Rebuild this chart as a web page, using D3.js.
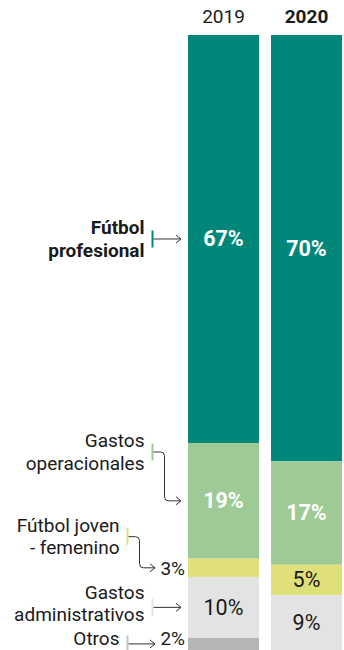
<!DOCTYPE html>
<html><head><meta charset="utf-8">
<script src="https://cdn.jsdelivr.net/npm/d3@7"></script>
<style>
html,body{margin:0;padding:0;background:#fff;}
svg{display:block;font-family:Roboto, "Noto Sans", sans-serif;}
</style></head>
<body>
<svg id="chart" width="344" height="650"></svg>
<script>
// ---- data ----
const years = ["2019", "2020"];
const categories = ["Fútbol profesional", "Gastos operacionales", "Fútbol joven - femenino", "Gastos administrativos", "Otros"];
const values2019 = [67, 19, 3, 10, 2];
const values2020 = [70, 17, 5, 9, 0];
const labelLines = [["Fútbol", "profesional"], ["Gastos", "operacionales"], ["Fútbol joven", "- femenino"], ["Gastos", "administrativos"], ["Otros"]];
const colors = ["#00877a", "#9ecb95", "#dfe07a", "#e3e3e3", "#b5b5b5"];
const tickColors = ["#00877a", "#9ecb95", "#dfe07a", "#e3e3e3", "#c4c4c4"];

// ---- layout ----
const svg = d3.select("#chart");
const series = {"2019": values2019, "2020": values2020};
const total = d3.max(years, y => d3.sum(series[y]));

const x = d3.scaleBand().domain(years).range([188, 342]).paddingInner(12 / 83).paddingOuter(0);
const y = d3.scaleLinear().domain([0, total]).range([35, 650]);

const segs = [];
years.forEach(yr => {
  let acc = 0;
  series[yr].forEach((v, i) => {
    segs.push({year: yr, i, v, y0: acc, y1: acc + v});
    acc += v;
  });
});

// bars
svg.append("g").selectAll("rect").data(segs.filter(d => d.v > 0)).join("rect")
  .attr("x", d => x(d.year))
  .attr("width", x.bandwidth())
  .attr("y", d => y(d.y0))
  .attr("height", d => y(d.y1) - y(d.y0))
  .attr("fill", d => colors[d.i]);

// year headers
svg.append("g").selectAll("text").data(years).join("text")
  .attr("x", d => x(d) + x.bandwidth() / 2)
  .attr("y", 23)
  .attr("text-anchor", "middle")
  .attr("font-size", 19)
  .attr("font-weight", (d, i) => i === 1 ? 700 : 400)
  .attr("fill", "#1a1a1a")
  .text(d => d);

// in-bar value labels (segments tall enough)
const inside = segs.filter(d => d.v > 0 && (y(d.y1) - y(d.y0)) > 24);
svg.append("g").selectAll("text").data(inside).join("text")
  .attr("x", d => x(d.year) + x.bandwidth() / 2)
  .attr("y", d => (y(d.y0) + y(d.y1)) / 2 + 7.5)
  .attr("text-anchor", "middle")
  .attr("font-size", 21.5)
  .attr("font-weight", d => d.i < 2 ? 700 : 400)
  .attr("fill", d => d.i < 2 ? "#ffffff" : "#1a1a1a")
  .text(d => d.v + "%");

// annotations for the 2019 bar
const s19 = segs.filter(d => d.year === "2019");
const barLeft = x("2019");
const ann = s19.map(d => {
  const mid = (y(d.y0) + y(d.y1)) / 2;
  const outside = (y(d.y1) - y(d.y0)) <= 24;
  let blockC = mid;
  let textShift = 0;
  if (d.i === 1) blockC = y(d.y0) + 9;
  if (d.i === 2) blockC = y(d.y0) - 22;
  if (d.i === 3) textShift = -4;
  const tickX = outside ? 127.5 : 152.5;
  return {d, mid, outside, blockC, tickX, textShift};
});

const lh = 22.3;
const maxBase = 645.3;
const gA = svg.append("g");
ann.forEach(a => {
  const lines = labelLines[a.d.i];
  const n = lines.length;
  const first = Math.min(a.blockC - (n - 1) * lh / 2 + 6.5 + a.textShift, maxBase);
  lines.forEach((l, k) => {
    gA.append("text")
      .attr("x", a.tickX - 8).attr("y", first + k * lh)
      .attr("text-anchor", "end")
      .attr("font-size", 19)
      .attr("font-weight", a.d.i === 0 ? 700 : 400)
      .attr("fill", "#1a1a1a")
      .text(l);
  });
  // colored tick
  gA.append("line")
    .attr("x1", a.tickX).attr("x2", a.tickX)
    .attr("y1", a.blockC - 8.5).attr("y2", a.blockC + 8.5)
    .attr("stroke", tickColors[a.d.i]).attr("stroke-width", 2);
  // connector
  const endX = a.outside ? barLeft - 33 : barLeft - 7;
  const sx = a.tickX + 1;
  let p;
  if (Math.abs(a.blockC - a.mid) < 4) {
    p = `M${sx},${a.mid}H${endX}`;
  } else {
    const cx = a.outside ? 139.5 : 164.5, r = 4;
    p = `M${sx},${a.blockC}H${cx - r}Q${cx},${a.blockC} ${cx},${a.blockC + r}V${a.mid - r}Q${cx},${a.mid} ${cx + r},${a.mid}H${endX}`;
  }
  gA.append("path").attr("d", p).attr("fill", "none").attr("stroke", "#333").attr("stroke-width", 1);
  gA.append("path")
    .attr("d", `M${endX - 5},${a.mid - 4}L${endX},${a.mid}L${endX - 5},${a.mid + 4}`)
    .attr("fill", "none").attr("stroke", "#333").attr("stroke-width", 1);
  if (a.outside) {
    gA.append("text")
      .attr("x", barLeft - 3).attr("y", Math.min(a.mid + 7, maxBase))
      .attr("text-anchor", "end").attr("font-size", 19).attr("fill", "#1a1a1a")
      .text(a.d.v + "%");
  }
});
</script>
</body></html>
